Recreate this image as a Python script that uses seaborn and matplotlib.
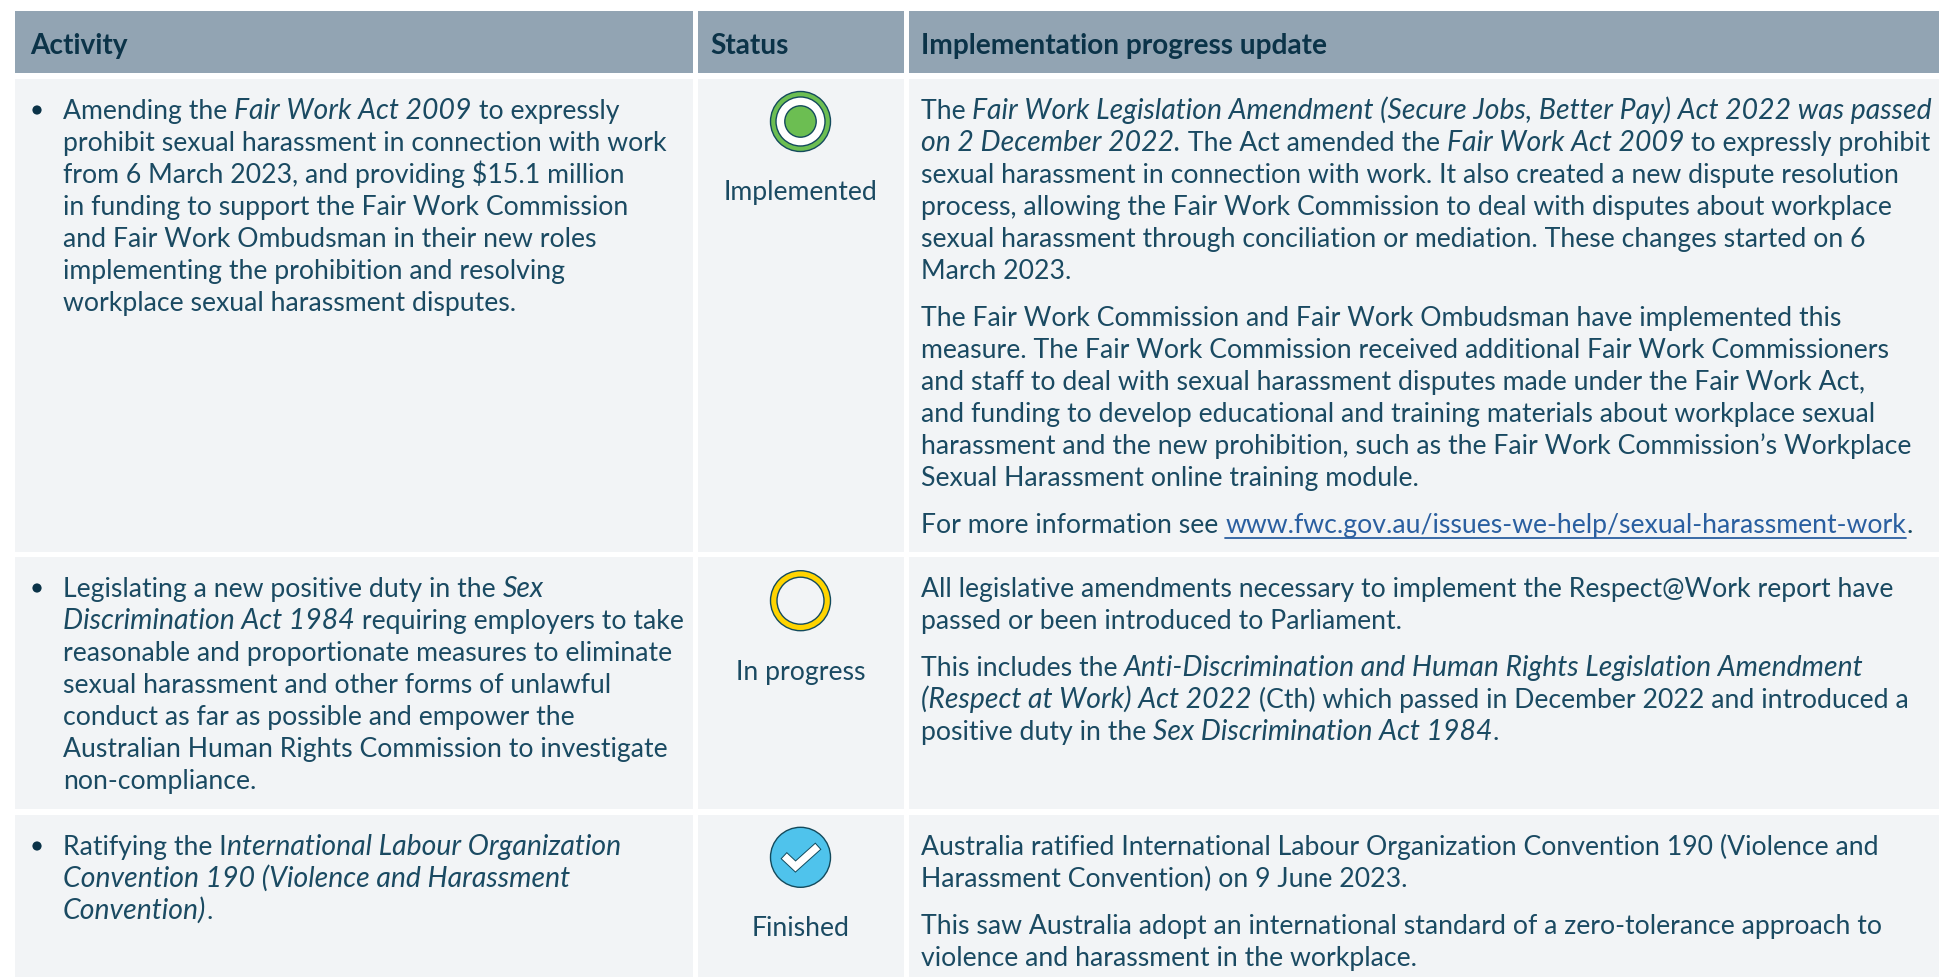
# Table of Respect@Work activities, status icons and progress updates
import re
import matplotlib
matplotlib.use("Agg")
import matplotlib.pyplot as plt
from matplotlib.patches import Rectangle, Circle
import seaborn as sns

# Text of the table. *x* is italic, [x] is a link
headers = ["Activity", "Status", "Implementation progress update"]
statuses = ["Implemented", "In progress", "Finished"]

activity_1 = ["Amending the *Fair Work Act 2009* to expressly",
              "prohibit sexual harassment in connection with work",
              "from 6 March 2023, and providing $15.1 million",
              "in funding to support the Fair Work Commission",
              "and Fair Work Ombudsman in their new roles",
              "implementing the prohibition and resolving",
              "workplace sexual harassment disputes."]
activity_2 = ["Legislating a new positive duty in the *Sex*",
              "*Discrimination Act 1984* requiring employers to take",
              "reasonable and proportionate measures to eliminate",
              "sexual harassment and other forms of unlawful",
              "conduct as far as possible and empower the",
              "Australian Human Rights Commission to investigate",
              "non-compliance."]
activity_3 = ["Ratifying the I*nternational Labour Organization*",
              "*Convention 190 (Violence and Harassment*",
              "*Convention)*."]

update_1 = [["The *Fair Work Legislation Amendment (Secure Jobs, Better Pay) Act 2022 was passed*",
             "*on 2 December 2022.* The Act amended the *Fair Work Act 2009* to expressly prohibit",
             "sexual harassment in connection with work. It also created a new dispute resolution",
             "process, allowing the Fair Work Commission to deal with disputes about workplace",
             "sexual harassment through conciliation or mediation. These changes started on 6",
             "March 2023."],
            ["The Fair Work Commission and Fair Work Ombudsman have implemented this",
             "measure. The Fair Work Commission received additional Fair Work Commissioners",
             "and staff to deal with sexual harassment disputes made under the Fair Work Act,",
             "and funding to develop educational and training materials about workplace sexual",
             "harassment and the new prohibition, such as the Fair Work Commission\u2019s Workplace",
             "Sexual Harassment online training module."],
            ["For more information see [www.fwc.gov.au/issues-we-help/sexual-harassment-work]."]]
update_2 = [["All legislative amendments necessary to implement the Respect@Work report have",
             "passed or been introduced to Parliament."],
            ["This includes the *Anti-Discrimination and Human Rights Legislation Amendment*",
             "*(Respect at Work) Act 2022* (Cth) which passed in December 2022 and introduced a",
             "positive duty in the *Sex Discrimination Act 1984*."]]
update_3 = [["Australia ratified International Labour Organization Convention 190 (Violence and",
             "Harassment Convention) on 9 June 2023."],
            ["This saw Australia adopt an international standard of a zero-tolerance approach to",
             "violence and harassment in the workplace."]]

activities = [activity_1, activity_2, activity_3]
updates = [update_1, update_2, update_3]

# Colours
head_col = "#92A4B3"
cell_col = "#F2F4F6"
text_col = "#1A4A62"
head_text = "#0B3348"
link_col = "#2A5FA0"
edge_col = "#134A5C"

sns.set_theme(style="white")
plt.rcParams["font.family"] = ["Lato", "DejaVu Sans"]
FS = 19.15
FS_ITALIC = 20.4

fig = plt.figure(figsize=(19.39, 9.77), dpi=100, facecolor="white")
ax = fig.add_axes([0, 0, 1, 1])
ax.set_xlim(0, 1939)
ax.set_ylim(977, 0)
ax.axis("off")
renderer = fig.canvas.get_renderer()

# column and row edges in pixels
col_left = [15, 698, 909]
col_right = [693, 904, 1939]
head_x = [30, 710, 921]
row_top = [79, 557, 815]
row_bot = [552, 809, 977]
row_base = [119, 597, 855]
LINE = 32
PARA = 47


def width(s, **kw):
    # bar trick so trailing spaces are counted
    a = ax.text(0, 0, s + "|", **kw)
    b = ax.text(0, 0, "|", **kw)
    w = a.get_window_extent(renderer).width - b.get_window_extent(renderer).width
    a.remove()
    b.remove()
    return w


def draw_line(x, y, line):
    for part in re.split(r"(\*[^*]*\*|\[[^\]]*\])", line):
        if not part:
            continue
        kw = {"fontsize": FS}
        colour = text_col
        if part[0] == "*":
            part = part[1:-1]
            kw = {"fontsize": FS_ITALIC, "style": "italic"}
        elif part[0] == "[":
            part = part[1:-1]
            colour = link_col
        w = width(part, **kw)
        ax.text(x, y, part, color=colour, va="baseline", ha="left", **kw)
        if colour == link_col:
            ax.plot([x, x + w], [y + 5, y + 5], color=link_col, lw=1.3)
        x += w


# header and cell backgrounds
for left, right, hx, head in zip(col_left, col_right, head_x, headers):
    ax.add_patch(Rectangle((left, 11), right - left, 62, fc=head_col, ec="none"))
    ax.text(hx, 54, head, fontsize=20.2, fontweight="bold",
            color=head_text, va="baseline", ha="left")
    for top, bot in zip(row_top, row_bot):
        ax.add_patch(Rectangle((left, top), right - left, bot - top, fc=cell_col, ec="none"))

# first column
for lines, base in zip(activities, row_base):
    ax.add_patch(Circle((37, base - 9), 4.6, fc=head_text, ec="none"))
    for i, line in enumerate(lines):
        draw_line(63, base + i * LINE, line)

# third column
for paras, base in zip(updates, row_base):
    y = base
    for para in paras:
        for line in para:
            draw_line(921, y, line)
            y += LINE
        y += PARA - LINE

# status column
cx = 800.5
for status, y in zip(statuses, [200, 680, 936]):
    ax.text(cx, y, status, fontsize=FS, color=text_col, ha="center", va="baseline")

ax.add_patch(Circle((cx, 121.5), 30, fc="#6CBE52", ec=edge_col, lw=1))
ax.add_patch(Circle((cx, 121.5), 24.5, fc="white", ec=edge_col, lw=1))
ax.add_patch(Circle((cx, 121.5), 15.7, fc="#6CBE52", ec=edge_col, lw=1))

ax.add_patch(Circle((cx, 600.7), 30, fc="#FFD400", ec=edge_col, lw=1))
ax.add_patch(Circle((cx, 600.7), 23.5, fc=cell_col, ec=edge_col, lw=1))

ax.add_patch(Circle((cx, 857.3), 30, fc="#4FC3EC", ec=edge_col, lw=1))
tick_x = [cx - 13.5, cx - 5, cx + 14.5]
tick_y = [858.5, 866.5, 849]
ax.plot(tick_x, tick_y, color=edge_col, lw=6.6, solid_capstyle="projecting", solid_joinstyle="miter")
ax.plot(tick_x, tick_y, color="white", lw=5.2, solid_capstyle="projecting", solid_joinstyle="miter")

fig.savefig("out.png", dpi=100)
